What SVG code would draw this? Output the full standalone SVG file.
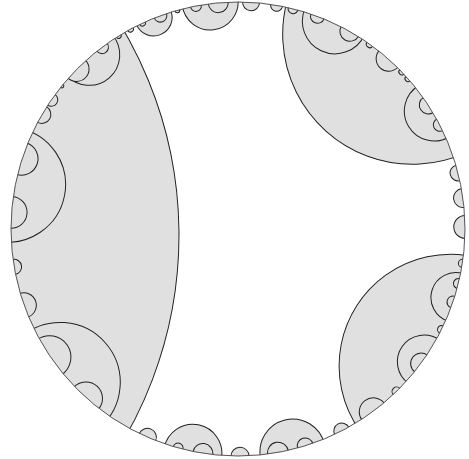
<svg xmlns="http://www.w3.org/2000/svg" width="469" height="459" viewBox="0 0 469 459">
<style>
.c{fill:#e0e0e0;stroke:#222;stroke-width:1}
.rim{fill:none;stroke:#555;stroke-width:1}
</style>
<defs>
<clipPath id="disk"><circle cx="238" cy="229" r="227"/></clipPath>
</defs>
<rect width="469" height="459" fill="#fff"/>
<g clip-path="url(#disk)">
<g id="left-region">
<circle class="c" cx="703.76" cy="229" r="406.7" transform="rotate(179.25 238 229)"/>
<circle class="c" cx="465.01" cy="229" r="2.5" transform="rotate(238.3 238 229)"/>
<circle class="c" cx="467.04" cy="229" r="30.5" transform="rotate(229.5 238 229)"/>
<circle class="c" cx="465.34" cy="229" r="12.5" transform="rotate(224.75 238 229)"/>
<circle class="c" cx="465.09" cy="229" r="6.5" transform="rotate(233.2 238 229)"/>
<circle class="c" cx="465.01" cy="229" r="2" transform="rotate(219.1 238 229)"/>
<circle class="c" cx="465.09" cy="229" r="6.5" transform="rotate(214.7 238 229)"/>
<circle class="c" cx="465.18" cy="229" r="9" transform="rotate(210.3 238 229)"/>
<circle class="c" cx="472.17" cy="229" r="57.5" transform="rotate(190.93 238 229)"/>
<circle class="c" cx="465.6" cy="229" r="16.5" transform="rotate(198 238 229)"/>
<circle class="c" cx="465.56" cy="229" r="16" transform="rotate(184.2 238 229)"/>
<circle class="c" cx="465.12" cy="229" r="7.5" transform="rotate(170.4 238 229)"/>
<circle class="c" cx="465.34" cy="229" r="12.5" transform="rotate(160.4 238 229)"/>
<circle class="c" cx="472.8" cy="229" r="60" transform="rotate(139.2 238 229)"/>
<circle class="c" cx="466.02" cy="229" r="21.5" transform="rotate(145.8 238 229)"/>
<circle class="c" cx="465.6" cy="229" r="16.5" transform="rotate(131.9 238 229)"/>
</g>
<g id="bottom-circles">
<circle class="c" cx="465.18" cy="229" r="9" transform="rotate(113.5 238 229)"/>
<circle class="c" cx="466.86" cy="229" r="29.1" transform="rotate(101.4 238 229)"/>
<circle class="c" cx="465.06" cy="229" r="5" transform="rotate(105.3 238 229)"/>
<circle class="c" cx="465.22" cy="229" r="10" transform="rotate(98.9 238 229)"/>
<circle class="c" cx="465.18" cy="229" r="9" transform="rotate(89.5 238 229)"/>
<circle class="c" cx="467.34" cy="229" r="32.7" transform="rotate(76.2 238 229)"/>
<circle class="c" cx="465.24" cy="229" r="10.5" transform="rotate(79.85 238 229)"/>
<circle class="c" cx="465.14" cy="229" r="8" transform="rotate(72.8 238 229)"/>
<circle class="c" cx="465.14" cy="229" r="8" transform="rotate(62.8 238 229)"/>
</g>
<g id="bottom-right-region">
<circle class="c" cx="490.95" cy="229" r="111.6" transform="rotate(32.76 238 229)"/>
<circle class="c" cx="465.43" cy="229" r="14" transform="rotate(53.5 238 229)"/>
<circle class="c" cx="465.04" cy="229" r="4.5" transform="rotate(45.7 238 229)"/>
<circle class="c" cx="466.56" cy="229" r="26.7" transform="rotate(35.5 238 229)"/>
<circle class="c" cx="465.24" cy="229" r="10.5" transform="rotate(36.3 238 229)"/>
<circle class="c" cx="465.04" cy="229" r="4" transform="rotate(26.3 238 229)"/>
<circle class="c" cx="466.36" cy="229" r="24.9" transform="rotate(17.45 238 229)"/>
<circle class="c" cx="465.08" cy="229" r="6" transform="rotate(18.76 238 229)"/>
<circle class="c" cx="465.06" cy="229" r="5" transform="rotate(13.9 238 229)"/>
<circle class="c" cx="465.04" cy="229" r="4" transform="rotate(8.7 238 229)"/>
</g>
<g id="right-circles">
<circle class="c" cx="465.14" cy="229" r="8" transform="rotate(-14.3 238 229)"/>
<circle class="c" cx="465.2" cy="229" r="9.5" transform="rotate(-7.85 238 229)"/>
<circle class="c" cx="465.29" cy="229" r="11.5" transform="rotate(-0.5 238 229)"/>
</g>
<g id="top-right-region">
<circle class="c" cx="499.59" cy="229" r="130" transform="rotate(-48.1 238 229)"/>
<circle class="c" cx="465.06" cy="229" r="5" transform="rotate(-75.96 238 229)"/>
<circle class="c" cx="467.33" cy="229" r="32.6" transform="rotate(-64.98 238 229)"/>
<circle class="c" cx="465.11" cy="229" r="7" transform="rotate(-69.5 238 229)"/>
<circle class="c" cx="465.22" cy="229" r="10" transform="rotate(-60.5 238 229)"/>
<circle class="c" cx="465.03" cy="229" r="3.5" transform="rotate(-54.5 238 229)"/>
<circle class="c" cx="465.34" cy="229" r="12.5" transform="rotate(-48.5 238 229)"/>
<circle class="c" cx="465.02" cy="229" r="3" transform="rotate(-43.8 238 229)"/>
<circle class="c" cx="465.02" cy="229" r="3" transform="rotate(-41.5 238 229)"/>
<circle class="c" cx="466.96" cy="229" r="29.9" transform="rotate(-31 238 229)"/>
<circle class="c" cx="465.18" cy="229" r="9" transform="rotate(-33.1 238 229)"/>
<circle class="c" cx="465.09" cy="229" r="6.5" transform="rotate(-27.3 238 229)"/>
</g>
<g id="top-circles">
<circle class="c" cx="465.02" cy="229" r="3" transform="rotate(241.7 238 229)"/>
<circle class="c" cx="465.75" cy="229" r="18.5" transform="rotate(248.25 238 229)"/>
<circle class="c" cx="465.02" cy="229" r="3" transform="rotate(245.1 238 229)"/>
<circle class="c" cx="465.09" cy="229" r="6.5" transform="rotate(250 238 229)"/>
<circle class="c" cx="465.01" cy="229" r="2.5" transform="rotate(254.5 238 229)"/>
<circle class="c" cx="466.72" cy="229" r="28" transform="rotate(263 238 229)"/>
<circle class="c" cx="465.07" cy="229" r="5.5" transform="rotate(259.3 238 229)"/>
<circle class="c" cx="465.22" cy="229" r="10" transform="rotate(265 238 229)"/>
<circle class="c" cx="465.16" cy="229" r="8.5" transform="rotate(273.3 238 229)"/>
<circle class="c" cx="465.08" cy="229" r="6" transform="rotate(279.8 238 229)"/>
</g>
</g>
<circle id="boundary" class="rim" cx="238" cy="229" r="227"/>
</svg>
